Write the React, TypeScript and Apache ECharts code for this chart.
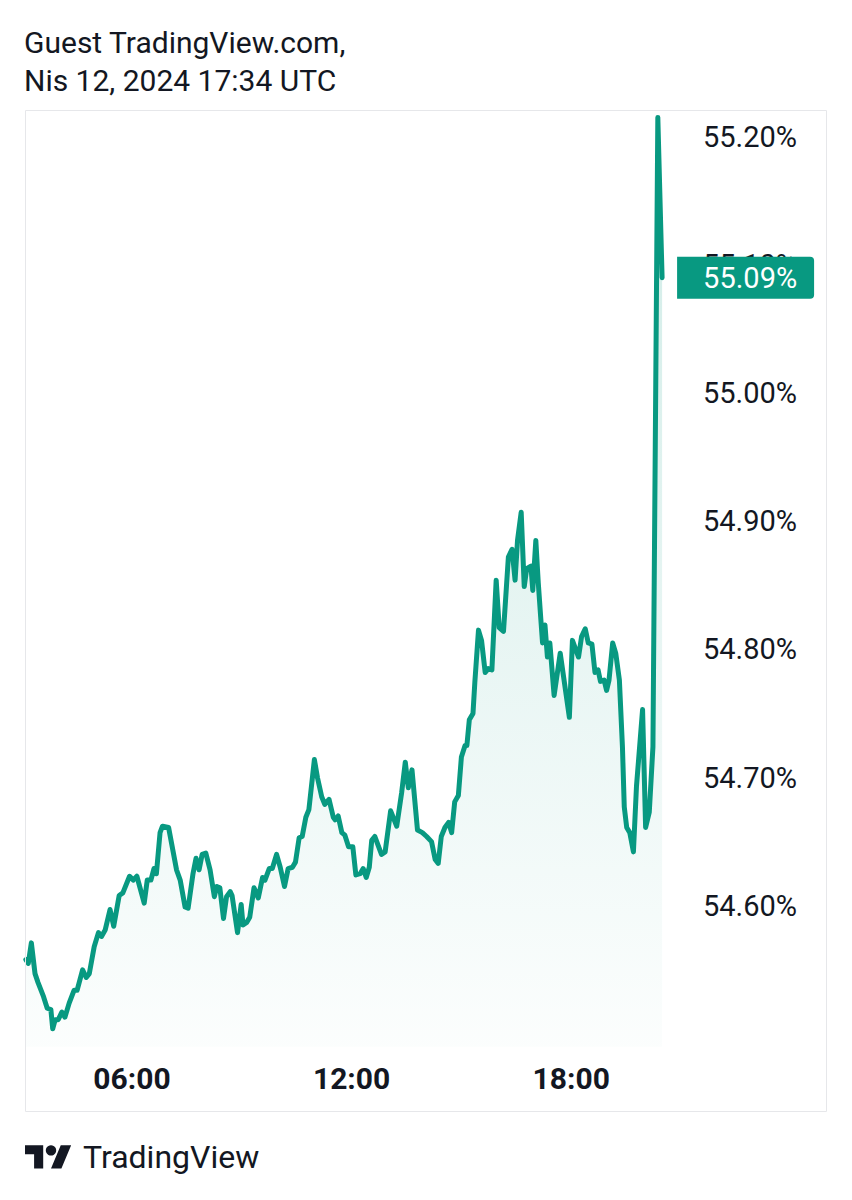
import React, { useEffect, useRef } from "react";
import * as echarts from "echarts";

// Time (local, HH:MM) of each sample
const times: string[] = [
  "03:06", "03:10", "03:15", "03:21", "03:26", "03:35", "03:41", "03:47", "03:50", "03:54",
  "03:59", "04:05", "04:10", "04:17", "04:25", "04:30", "04:39", "04:45", "04:50", "04:58",
  "05:05", "05:10", "05:16", "05:24", "05:30", "05:39", "05:45", "05:56", "06:02", "06:08",
  "06:20", "06:25", "06:31", "06:36", "06:40", "06:46", "06:50", "07:00", "07:13", "07:19",
  "07:27", "07:32", "07:40", "07:45", "07:50", "07:55", "08:01", "08:08", "08:15", "08:19",
  "08:24", "08:30", "08:35", "08:41", "08:44", "08:53", "08:59", "09:02", "09:08", "09:13",
  "09:20", "09:27", "09:34", "09:38", "09:45", "09:50", "09:57", "10:03", "10:10", "10:16",
  "10:23", "10:28", "10:34", "10:39", "10:45", "10:50", "10:59", "11:04", "11:11", "11:16",
  "11:23", "11:30",
  "11:33", "11:38", "11:44", "11:49", "11:55", "12:02", "12:07", "12:14", "12:19", "12:24",
  "12:29", "12:33", "12:38", "12:49", "12:55", "13:04", "13:14", "13:22", "13:28", "13:33",
  "13:39", "13:48", "13:56", "14:03", "14:11", "14:17", "14:22", "14:27", "14:33", "14:39",
  "14:44", "14:49", "14:55", "15:00", "15:06", "15:09", "15:13", "15:19", "15:22", "15:28",
  "15:33",
  "15:39", "15:44", "15:50", "15:57", "16:02", "16:09", "16:17", "16:23", "16:28", "16:32",
  "16:38", "16:43", "16:47", "16:54", "16:57", "17:02", "17:06", "17:10", "17:13", "17:17",
  "17:21", "17:25", "17:32", "17:42", "17:57", "18:02", "18:12", "18:17", "18:23", "18:28",
  "18:34", "18:39", "18:44", "18:48", "18:54", "18:58", "19:02", "19:08", "19:13", "19:19",
  "19:24", "19:27", "19:31", "19:36", "19:42", "19:47", "19:57", "20:02", "20:08", "20:14",
  "20:22", "20:29",
];

// Value in percent of each sample
const values: number[] = [
  54.558, 54.555, 54.571, 54.547, 54.540, 54.529, 54.520, 54.519, 54.504, 54.511,
  54.511, 54.517, 54.513, 54.524, 54.534, 54.534, 54.550, 54.544, 54.547, 54.568,
  54.579, 54.576, 54.581, 54.597, 54.584, 54.608, 54.610, 54.623, 54.620, 54.623,
  54.602, 54.620, 54.620, 54.629, 54.625, 54.657, 54.662, 54.661, 54.628, 54.620,
  54.599, 54.598, 54.625, 54.637, 54.628, 54.640, 54.641, 54.628, 54.607, 54.615,
  54.614, 54.590, 54.607, 54.611, 54.608, 54.579, 54.601, 54.585, 54.587, 54.591,
  54.614, 54.606, 54.622, 54.620, 54.629, 54.629, 54.640, 54.630, 54.615, 54.629,
  54.630, 54.634, 54.653, 54.654, 54.669, 54.675, 54.714, 54.700, 54.685, 54.679,
  54.683, 54.669,
  54.667, 54.670, 54.657, 54.655, 54.646, 54.646, 54.624, 54.625, 54.629, 54.622,
  54.630, 54.651, 54.654, 54.640, 54.642, 54.674, 54.662, 54.688, 54.712, 54.692,
  54.706, 54.659, 54.657, 54.654, 54.650, 54.636, 54.633, 54.654, 54.661, 54.665,
  54.657, 54.681, 54.686, 54.716, 54.725, 54.725, 54.745, 54.750, 54.774, 54.815,
  54.807,
  54.782, 54.785, 54.784, 54.854, 54.817, 54.814, 54.872, 54.878, 54.854, 54.885,
  54.907, 54.849, 54.863, 54.865, 54.846, 54.885, 54.852, 54.825, 54.805, 54.819,
  54.794, 54.805, 54.764, 54.797, 54.747, 54.807, 54.794, 54.810, 54.816, 54.805,
  54.804, 54.782, 54.784, 54.775, 54.776, 54.768, 54.776, 54.805, 54.797, 54.776,
  54.724, 54.677, 54.661, 54.657, 54.642, 54.693, 54.753, 54.661, 54.673, 54.724,
  55.215, 55.09,
];

const yTickValues: number[] = [54.6, 54.7, 54.8, 54.9, 55.0, 55.1, 55.2];
const xTickLabels: string[] = ["06:00", "12:00", "18:00"];
const titleLines: string[] = ["Guest TradingView.com,", "Nis 12, 2024 17:34 UTC"];
const brandText = "TradingView";

const LINE_COLOR = "#089981";
const TEXT_COLOR = "#131722";
const FONT = "Roboto";

const toMin = (t: string) => {
  const [h, m] = t.split(":").map(Number);
  return h * 60 + m;
};
const fmtMin = (m: number) => {
  const h = Math.floor(m / 60);
  const mm = Math.round(m - h * 60);
  return `${String(h).padStart(2, "0")}:${String(mm).padStart(2, "0")}`;
};

echarts.graphic.registerShape(
  "tvlogo",
  echarts.graphic.extendPath("M14 22H7V11H0V4h14v18zM28 22h-8l7.5-18h8L28 22z", {})
);

export default function App() {
  const ref = useRef<HTMLDivElement>(null);

  useEffect(() => {
    if (!ref.current) return;
    const chart = echarts.init(ref.current, null, { renderer: "svg" });
    const data = times.map((t, i) => [toMin(t), values[i]]);
    const last = values[values.length - 1];

    chart.setOption({
      animation: false,
      backgroundColor: "#ffffff",
      title: {
        text: titleLines.join("\n"),
        left: 24,
        top: 23,
        padding: 0,
        textStyle: {
          fontFamily: FONT,
          fontSize: 30,
          fontWeight: "normal",
          color: TEXT_COLOR,
          lineHeight: 38,
        },
      },
      grid: {
        left: 25.25,
        right: 171,
        top: 111,
        bottom: 153.3,
        containLabel: false,
      },
      xAxis: {
        type: "value",
        min: 185,
        max: 1260,
        axisLine: { show: false },
        axisTick: { show: false },
        splitLine: { show: false },
        axisLabel: {
          customValues: xTickLabels.map(toMin),
          formatter: (v: number) => fmtMin(v),
          fontFamily: FONT,
          fontSize: 30,
          fontWeight: "bold",
          color: TEXT_COLOR,
          margin: 17,
        },
      },
      yAxis: {
        type: "value",
        position: "right",
        min: 54.49,
        max: 55.22,
        axisLine: { show: false },
        axisTick: { show: false },
        splitLine: { show: false },
        axisLabel: {
          customValues: yTickValues,
          formatter: (v: number) => `${v.toFixed(2)}%`,
          fontFamily: FONT,
          fontSize: 29,
          color: TEXT_COLOR,
          margin: 22,
          align: "left",
        },
      },
      series: [
        {
          type: "line",
          data,
          symbol: "none",
          lineStyle: { color: LINE_COLOR, width: 5, join: "round", cap: "round" },
          areaStyle: {
            origin: "start",
            color: new echarts.graphic.LinearGradient(0, 0, 0, 1, [
              { offset: 0, color: "rgba(8,153,129,0.28)" },
              { offset: 1, color: "rgba(8,153,129,0.02)" },
            ]),
          },
          endLabel: {
            show: true,
            formatter: () => `${last.toFixed(2)}%`,
            distance: 15,
            backgroundColor: LINE_COLOR,
            color: "#ffffff",
            fontFamily: FONT,
            fontSize: 29,
            lineHeight: 28,
            padding: [7, 14, 7, 26],
            borderRadius: [0, 4, 4, 0],
            width: 97,
            align: "left",
          },
        },
      ],
      graphic: [
        {
          type: "rect",
          z: 100,
          silent: true,
          shape: { x: 25.5, y: 110.5, width: 801, height: 1001 },
          style: { fill: "none", stroke: "#e6e7ea", lineWidth: 1 },
        },
        {
          type: "tvlogo",
          x: 25,
          y: 1140,
          scaleX: 1.3,
          scaleY: 1.3,
          style: { fill: TEXT_COLOR },
        },
        {
          type: "circle",
          x: 25,
          y: 1140,
          scaleX: 1.3,
          scaleY: 1.3,
          shape: { cx: 20, cy: 8, r: 4 },
          style: { fill: TEXT_COLOR },
        },
        {
          type: "text",
          x: 83,
          y: 1157,
          style: {
            text: brandText,
            fontFamily: FONT,
            fontSize: 32,
            fill: TEXT_COLOR,
            verticalAlign: "middle",
            align: "left",
          },
        },
      ],
    });

    return () => chart.dispose();
  }, []);

  return (
    <div
      ref={ref}
      style={{ position: "absolute", left: 0, top: 0, width: 852, height: 1200 }}
    />
  );
}
